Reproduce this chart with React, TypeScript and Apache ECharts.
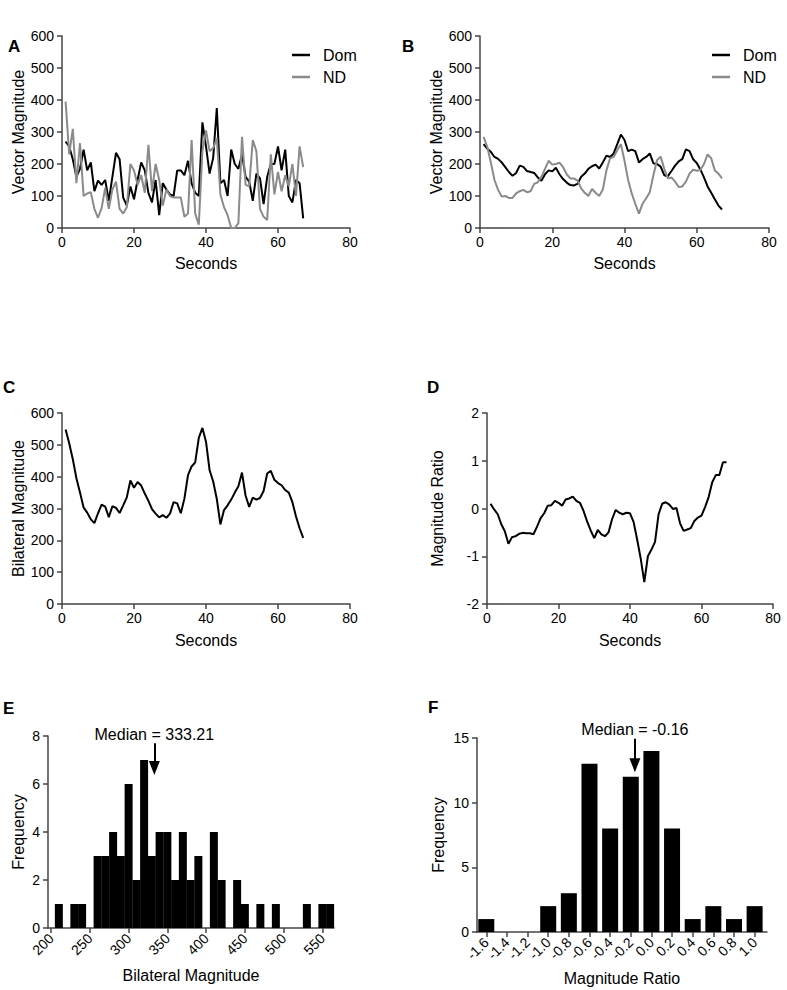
import React, { useEffect, useRef } from "react";
import * as echarts from "echarts";

const FONT = '"Liberation Sans", Arial, Helvetica, sans-serif';

// time axis (seconds)
const seconds = [1,2,3,4,5,6,7,8,9,10,11,12,13,14,15,16,17,18,19,20,21,22,23,24,25,26,27,28,29,30,31,32,33,34,35,36,37,38,39,40,41,42,43,44,45,46,47,48,49,50,51,52,53,54,55,56,57,58,59,60,61,62,63,64,65,66,67];

// Panel A: raw vector magnitude
const rawDom = [270,255,215,160,185,245,180,205,115,148,135,150,85,160,235,215,95,70,130,90,150,205,180,110,80,150,40,140,120,105,100,180,180,165,210,140,110,100,330,255,170,220,375,140,150,100,245,200,185,230,160,145,85,170,155,75,160,200,200,255,180,245,100,80,150,140,30];
const rawND = [395,230,310,140,265,100,108,112,60,32,62,125,60,120,145,60,45,65,200,180,135,165,110,260,115,200,150,70,120,100,95,95,95,35,45,275,45,10,240,305,240,250,280,105,65,40,0,0,15,285,135,130,275,240,60,35,25,230,105,175,115,165,130,200,100,255,190];

// Panel B: smoothed vector magnitude
const smDom = [262,248,238,222,216,205,190,175,163,172,195,191,178,175,172,158,148,168,180,177,188,168,153,142,134,133,138,160,170,185,193,198,186,205,226,222,233,262,292,275,240,245,240,205,215,222,233,202,200,192,165,162,178,195,208,215,246,240,215,203,183,158,130,110,90,70,58];
const smND = [285,254,205,150,120,98,100,94,94,108,115,119,112,115,138,143,160,185,210,198,200,204,190,168,155,155,148,124,110,100,122,110,100,120,180,218,222,244,262,210,150,108,75,45,76,93,112,165,212,223,185,155,158,145,128,130,145,170,182,179,181,200,230,218,180,170,155];

// Panel C: bilateral magnitude
const bilateral = [548,505,455,395,350,303,287,266,254,285,312,306,273,307,302,286,310,335,388,365,383,372,347,324,298,284,272,279,271,284,320,316,285,331,405,432,445,522,553,510,420,385,330,250,295,310,328,350,370,413,340,305,334,328,333,355,410,418,390,380,373,358,350,320,275,238,208];

// Panel D: magnitude ratio
const ratio = [0.10,-0.02,-0.12,-0.33,-0.48,-0.74,-0.60,-0.58,-0.53,-0.51,-0.52,-0.52,-0.54,-0.38,-0.20,-0.10,0.06,0.07,0.16,0.12,0.06,0.19,0.21,0.25,0.16,0.12,-0.05,-0.27,-0.46,-0.62,-0.45,-0.54,-0.58,-0.50,-0.22,-0.03,-0.09,-0.12,-0.09,-0.10,-0.28,-0.65,-1.05,-1.54,-1.00,-0.86,-0.70,-0.12,0.10,0.13,0.08,-0.01,0.01,-0.31,-0.47,-0.44,-0.41,-0.26,-0.19,-0.15,0.03,0.24,0.55,0.70,0.70,0.97,0.97];

// Panel E: histogram of bilateral magnitude
const eBins = [210,230,240,260,270,280,290,300,310,320,330,340,350,360,370,380,390,410,420,440,450,470,490,530,550,560];
const eCounts = [1,1,1,3,3,4,3,6,2,7,3,4,4,2,4,2,3,4,2,2,1,1,1,1,1,1];
const eTicks = [200,250,300,350,400,450,500,550];
const eMedian = 333.21;

// Panel F: histogram of magnitude ratio
const fBins = [-1.6,-1.0,-0.8,-0.6,-0.4,-0.2,0.0,0.2,0.4,0.6,0.8,1.0];
const fCounts = [1,2,3,13,8,12,14,8,1,2,1,2];
const fTicks = [-1.6,-1.4,-1.2,-1.0,-0.8,-0.6,-0.4,-0.2,0.0,0.2,0.4,0.6,0.8,1.0];
const fMedian = -0.16;

const pair = (xs: number[], ys: number[]) => xs.map((x, i) => [x, ys[i]]);

const AX = "#444";
const TICK_FS = 14;
const NAME_FS = 16;

function axis(extra: any) {
  return {
    type: "value",
    axisLine: { show: true, onZero: false, lineStyle: { color: AX, width: 1.5 } },
    axisTick: { show: true, length: 5, lineStyle: { color: AX, width: 1.5 } },
    axisLabel: { color: "#000", fontSize: TICK_FS, fontFamily: FONT, margin: 7 },
    splitLine: { show: false },
    nameLocation: "middle",
    nameTextStyle: { color: "#000", fontSize: NAME_FS, fontFamily: FONT },
    ...extra,
  };
}

const yLabel = { color: "#000", fontSize: TICK_FS, fontFamily: FONT, margin: 8 };

function letter(t: string, x: number, y: number) {
  return {
    type: "text",
    left: x,
    top: y - 9,
    style: { text: t, fontSize: 17, fontWeight: "bold", fill: "#000", fontFamily: FONT },
  };
}

export default function App() {
  const ref = useRef<HTMLDivElement>(null);
  useEffect(() => {
    if (!ref.current) return;
    const chart = echarts.init(ref.current, null, { renderer: "svg" });
    const lineS = (name: string, data: number[], color: string, xi: number) => ({
      type: "line",
      name,
      xAxisIndex: xi,
      yAxisIndex: xi,
      data: pair(seconds, data),
      symbol: "none",
      lineStyle: { color, width: 2 },
      itemStyle: { color },
      z: 2,
    });
    const legend = (left: number) => ({
      orient: "vertical",
      left,
      top: 41,
      icon: "rect",
      itemWidth: 18,
      itemHeight: 2.5,
      itemGap: 4,
      selectedMode: false,
      data: ["Dom", "ND"],
      textStyle: { fontSize: NAME_FS, fontFamily: FONT, color: "#000", padding: [0, 0, 0, 8], lineHeight: 18 },
    });
    const arrowMark = (x: number, y1: number, y2: number, text: string) => ({
      silent: true,
      symbol: ["none", "triangle"],
      symbolSize: [11, 14],
      lineStyle: { color: "#000", width: 2, type: "solid" },
      label: { show: true, position: "start", formatter: text, fontSize: NAME_FS, fontFamily: FONT, color: "#000", distance: 1 },
      emphasis: { disabled: true },
      data: [[{ coord: [x, y1] }, { coord: [x, y2] }]],
    });
    chart.setOption({
      animation: false,
      textStyle: { fontFamily: FONT },
      grid: [
        { left: 62, top: 36, width: 288, height: 192 },
        { left: 480, top: 36, width: 289, height: 192 },
        { left: 62, top: 413, width: 288, height: 191 },
        { left: 487, top: 413, width: 286, height: 191 },
        { left: 48, top: 736, width: 286, height: 192 },
        { left: 477, top: 738, width: 290, height: 194 },
      ],
      legend: [legend(287), legend(707)],
      xAxis: [
        axis({ gridIndex: 0, min: 0, max: 80, interval: 20, name: "Seconds", nameGap: 27 }),
        axis({ gridIndex: 1, min: 0, max: 80, interval: 20, name: "Seconds", nameGap: 27 }),
        axis({ gridIndex: 2, min: 0, max: 80, interval: 20, name: "Seconds", nameGap: 28 }),
        axis({ gridIndex: 3, min: 0, max: 80, interval: 20, name: "Seconds", nameGap: 28 }),
        axis({
          gridIndex: 4, min: 196, max: 565, name: "Bilateral Magnitude", nameGap: 39,
          axisTick: { show: true, length: 5, lineStyle: { color: AX, width: 1.5 }, customValues: eTicks },
          axisLabel: { color: "#000", fontSize: TICK_FS, fontFamily: FONT, margin: 8, rotate: 45, customValues: eTicks },
        }),
        axis({
          gridIndex: 5, min: -1.69, max: 1.12, name: "Magnitude Ratio", nameGap: 38,
          axisTick: { show: true, length: 5, lineStyle: { color: AX, width: 1.5 }, customValues: fTicks },
          axisLabel: { color: "#000", fontSize: TICK_FS, fontFamily: FONT, margin: 8, rotate: 45, customValues: fTicks, formatter: (v: number) => v.toFixed(1) },
        }),
      ],
      yAxis: [
        axis({ gridIndex: 0, min: 0, max: 600, interval: 100, name: "Vector Magnitude", nameGap: 36, axisLabel: yLabel }),
        axis({ gridIndex: 1, min: 0, max: 600, interval: 100, name: "Vector Magnitude", nameGap: 33, axisLabel: yLabel }),
        axis({ gridIndex: 2, min: 0, max: 600, interval: 100, name: "Bilateral Magnitude", nameGap: 36, axisLabel: yLabel }),
        axis({ gridIndex: 3, min: -2, max: 2, interval: 1, name: "Magnitude Ratio", nameGap: 42, axisLabel: yLabel }),
        axis({ gridIndex: 4, min: 0, max: 8, interval: 2, name: "Frequency", nameGap: 22, axisLabel: yLabel }),
        axis({ gridIndex: 5, min: 0, max: 15, interval: 5, name: "Frequency", nameGap: 31, axisLabel: yLabel }),
      ],
      series: [
        lineS("Dom", rawDom, "#000", 0),
        lineS("ND", rawND, "#8a8a8a", 0),
        lineS("Dom", smDom, "#000", 1),
        lineS("ND", smND, "#8a8a8a", 1),
        lineS("Bilateral", bilateral, "#000", 2),
        lineS("Ratio", ratio, "#000", 3),
        {
          type: "bar",
          name: "E",
          xAxisIndex: 4,
          yAxisIndex: 4,
          data: pair(eBins, eCounts),
          barWidth: 8,
          itemStyle: { color: "#000" },
          markLine: arrowMark(eMedian, 7.7, 6.67, "Median = " + eMedian.toFixed(2)),
        },
        {
          type: "bar",
          name: "F",
          xAxisIndex: 5,
          yAxisIndex: 5,
          data: pair(fBins, fCounts),
          barWidth: 16,
          itemStyle: { color: "#000" },
          markLine: arrowMark(fMedian, 14.95, 12.9, "Median = " + fMedian.toFixed(2)),
        },
      ],
      graphic: [
        letter("A", 8, 47),
        letter("B", 402, 47),
        letter("C", 3, 388),
        letter("D", 427, 388),
        letter("E", 3, 709),
        letter("F", 428, 708),
      ],
    });
    return () => chart.dispose();
  }, []);
  return <div ref={ref} style={{ position: "absolute", left: 0, top: 0, width: 787, height: 990 }} />;
}
